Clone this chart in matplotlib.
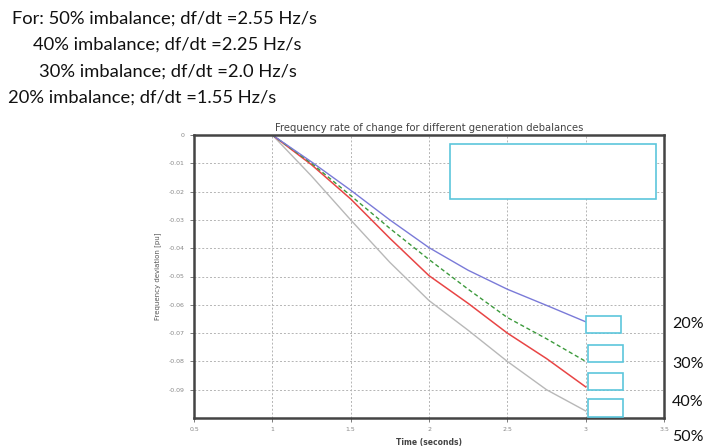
import matplotlib
matplotlib.use("Agg")
import matplotlib.pyplot as plt
from matplotlib.patches import Rectangle

# ---- data ----
time = [1.0, 1.25, 1.5, 1.75, 2.0, 2.25, 2.5, 2.75, 3.0]
dev_20 = [0, -0.0095, -0.0195, -0.0300, -0.0398, -0.0478, -0.0545, -0.0602, -0.066]
dev_30 = [0, -0.0100, -0.0214, -0.0330, -0.0440, -0.0545, -0.0645, -0.0720, -0.080]
dev_40 = [0, -0.0105, -0.0226, -0.0365, -0.0497, -0.0595, -0.0700, -0.0790, -0.089]
dev_50 = [0, -0.0145, -0.0300, -0.0450, -0.0585, -0.0690, -0.0800, -0.0900, -0.0975]
xticks = [0.5, 1, 1.5, 2, 2.5, 3, 3.5]
xticklabels = ["0.5", "1", "1.5", "2", "2.5", "3", "3.5"]
yticks = [0, -0.01, -0.02, -0.03, -0.04, -0.05, -0.06, -0.07, -0.08, -0.09]
yticklabels = ["0", "-0.01", "-0.02", "-0.03", "-0.04", "-0.05", "-0.06", "-0.07", "-0.08", "-0.09"]
notes = ["For: 50% imbalance; df/dt =2.55 Hz/s",
         "40% imbalance; df/dt =2.25 Hz/s",
         "30% imbalance; df/dt =2.0 Hz/s",
         "20% imbalance; df/dt =1.55 Hz/s"]
side_labels = ["20%", "30%", "40%", "50%"]

W, H = 713, 446
fig = plt.figure(figsize=(W / 100, H / 100), dpi=100)
ax = fig.add_axes([194 / W, 1 - 418 / H, (664 - 194) / W, (418 - 135) / H])

ax.plot(time, dev_50, color="#b8b8b8", lw=1.0)
ax.plot(time, dev_40, color="#e84545", lw=1.1)
ax.plot(time, dev_30, color="#3c9a3c", lw=1.0, ls=(0, (3, 2)))
ax.plot(time, dev_20, color="#7a7ad8", lw=1.0)

ax.set_xlim(0.5, 3.5)
ax.set_ylim(-0.1, 0)
ax.set_xticks(xticks)
ax.set_xticklabels(xticklabels)
ax.set_yticks(yticks)
ax.set_yticklabels(yticklabels)
ax.tick_params(labelsize=4.5, labelcolor="#888888", length=3, width=0.6, color="#666666")
ax.grid(True, ls=(0, (2, 2)), color="#b4b4b4", lw=0.7)
for s in ax.spines.values():
    s.set_linewidth(1.8)
    s.set_color("#444444")
ax.set_title("Frequency rate of change for different generation debalances",
             fontsize=7.2, color="#444444", pad=3)
ax.set_xlabel("Time (seconds)", fontsize=5.5, fontweight="bold", color="#444444", labelpad=4)
ax.set_ylabel("Frequency deviation [pu]", fontsize=5, color="#555555", labelpad=6)

# annotation boxes (figure pixel positions)
box_color = "#5cc6dc"
def fig_box(x0, y0, x1, y1, lw=1.2):
    r = Rectangle((x0 / W, 1 - y1 / H), (x1 - x0) / W, (y1 - y0) / H,
                  transform=fig.transFigure, fill=True, facecolor="white",
                  edgecolor=box_color, lw=lw, zorder=5)
    fig.patches.append(r)

fig_box(450, 144, 656, 199)
fig_box(586, 316, 621, 333)
fig_box(588, 345, 623, 362)
fig_box(588, 373, 623, 390)
fig_box(588, 399, 623, 417)

# text notes
font = "Lato"
note_pos = [(12, 19), (33, 45), (39, 72), (8, 98)]
for txt, (x, y) in zip(notes, note_pos):
    fig.text(x / W, 1 - y / H, txt, fontsize=13.2, family=font, color="#111111",
             va="center", ha="left")

side_pos = [324, 364, 402, 437]
for txt, y in zip(side_labels, side_pos):
    fig.text(672 / W, 1 - y / H, txt, fontsize=11.5, family=font, color="#111111",
             va="center", ha="left")

fig.savefig("out.png", dpi=100)
